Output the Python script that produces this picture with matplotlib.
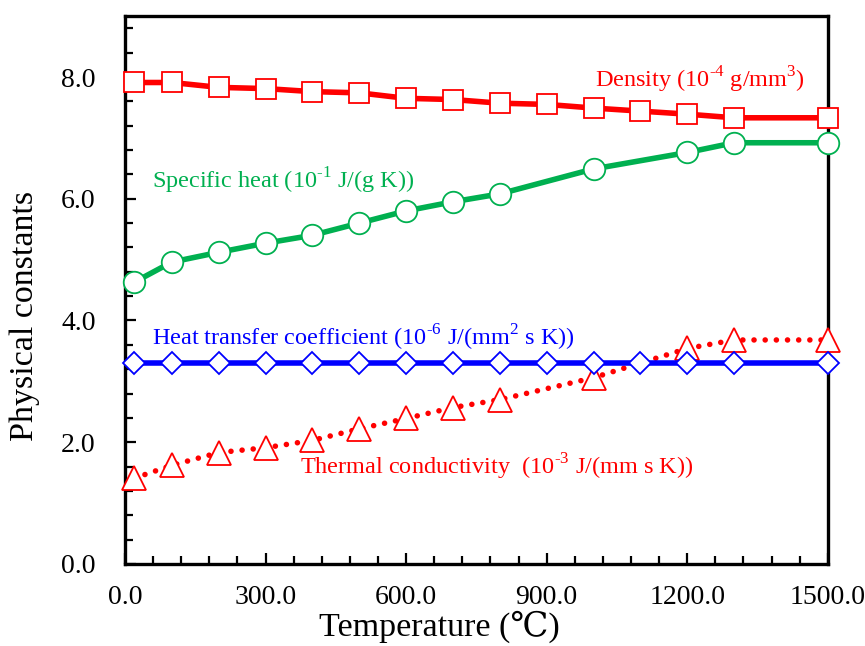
import matplotlib
matplotlib.use("Agg")
import matplotlib.pyplot as plt
from matplotlib.ticker import MultipleLocator, FormatStrFormatter

plt.rcParams['font.family'] = ['Liberation Serif', 'DejaVu Serif', 'Noto Sans CJK JP']
plt.rcParams['mathtext.fontset'] = 'custom'
plt.rcParams['mathtext.rm'] = 'Liberation Serif'

# temperatures (deg C)
temp_all = [20, 100, 200, 300, 400, 500, 600, 700, 800, 900, 1000, 1100, 1200, 1300, 1500]
temp_part = [20, 100, 200, 300, 400, 500, 600, 700, 800, 1000, 1200, 1300, 1500]

density = [7.91, 7.91, 7.83, 7.81, 7.76, 7.74, 7.65, 7.63, 7.57, 7.55, 7.49, 7.44, 7.39, 7.33, 7.33]
specific_heat = [4.63, 4.96, 5.12, 5.27, 5.40, 5.60, 5.80, 5.95, 6.08, 6.49, 6.76, 6.92, 6.92]
heat_transfer = [3.30] * 15
conductivity = [1.41, 1.62, 1.83, 1.91, 2.03, 2.22, 2.39, 2.57, 2.70, 3.06, 3.54, 3.68, 3.68]

RED = '#FF0000'
GREEN = '#00B050'
BLUE = '#0000FF'
HY = '\u2010'  # plain hyphen for superscripts

fig = plt.figure(figsize=(8.65, 6.46), dpi=100)
ax = fig.add_axes([0.1445, 0.127, 0.957 - 0.1445, 0.975 - 0.127])

ax.plot(temp_part, conductivity, color=RED, lw=4, linestyle=(0, (0.01, 2.0)),
        dash_capstyle='round', marker='^', ms=17, mfc='white', mec=RED, mew=1.3,
        clip_on=False, zorder=3)
ax.plot(temp_all, heat_transfer, color=BLUE, lw=4, marker='D', ms=11.5,
        mfc='white', mec=BLUE, mew=1.3, clip_on=False, zorder=4)
ax.plot(temp_part, specific_heat, color=GREEN, lw=4, marker='o', ms=15.5,
        mfc='white', mec=GREEN, mew=1.3, clip_on=False, zorder=4)
ax.plot(temp_all, density, color=RED, lw=4, marker='s', ms=14,
        mfc='white', mec=RED, mew=1.3, clip_on=False, zorder=4)

fs = 17.5
ax.text(1003, 7.95, r'Density (10$^{\mathregular{' + HY + r'4}}$ g/mm$^{\mathregular{3}}$)',
        color=RED, fontsize=fs, va='center')
ax.text(57, 6.3, r'Specific heat (10$^{\mathregular{' + HY + r'1}}$ J/(g K))',
        color=GREEN, fontsize=fs, va='center')
ax.text(57, 3.72, r'Heat transfer coefficient (10$^{\mathregular{' + HY
        + r'6}}$ J/(mm$^{\mathregular{2}}$ s K))',
        color=BLUE, fontsize=fs, va='center')
ax.text(373, 1.6, r'Thermal conductivity  (10$^{\mathregular{' + HY + r'3}}$ J/(mm s K))',
        color=RED, fontsize=fs, va='center')

ax.set_xlim(0, 1500)
ax.set_ylim(0, 9.0)
ax.xaxis.set_major_locator(MultipleLocator(300))
ax.xaxis.set_minor_locator(MultipleLocator(60))
ax.yaxis.set_major_locator(MultipleLocator(2.0))
ax.yaxis.set_minor_locator(MultipleLocator(0.4))
ax.xaxis.set_major_formatter(FormatStrFormatter('%.1f'))
ax.yaxis.set_major_formatter(FormatStrFormatter('%.1f'))

ax.tick_params(which='both', direction='in', top=False, right=False,
               labelsize=20, width=1.6)
ax.tick_params(which='major', length=8)
ax.tick_params(which='minor', length=6)
ax.tick_params(axis='x', which='major', pad=15)
ax.tick_params(axis='y', which='major', pad=21)
for sp in ax.spines.values():
    sp.set_linewidth(2.4)

ax.set_xlabel('Temperature (℃)', fontsize=24.5)
ax.set_ylabel('Physical constants', fontsize=24.5)
ax.xaxis.set_label_coords(0.448, -0.085)
ax.yaxis.set_label_coords(-0.121, 0.4526)

fig.savefig('out.png', dpi=100)
